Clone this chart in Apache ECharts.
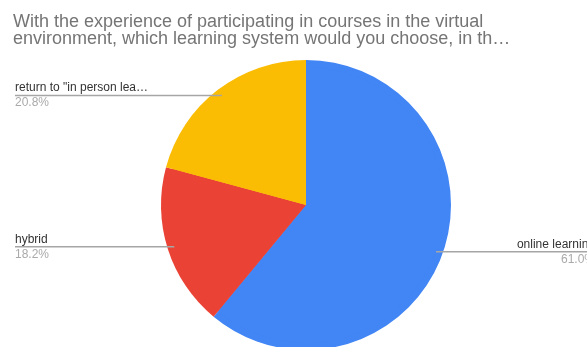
<!DOCTYPE html>
<html>
<head>
<meta charset="utf-8">
<script src="https://cdn.jsdelivr.net/npm/echarts@6/dist/echarts.min.js"></script>
<style>
  html, body { margin: 0; padding: 0; background: #fff; }
  #chart { width: 587px; height: 347px; }
</style>
</head>
<body>
<div id="chart"></div>
<script>
// Survey answers: preferred learning system after taking courses online
const categories = ['online learning', 'hybrid', 'return to "in person lea…'];
const shares = [61.0, 18.2, 20.8];
const colors = ['#4285F4', '#EA4335', '#FBBC04'];

const titleText = 'With the experience of participating in courses in the virtual\nenvironment, which learning system would you choose, in th…';

const CHART_W = 587;
const LEFT_TEXT_X = 15;
const RIGHT_TEXT_X = 595;
const CENTER = [306, 205];
const RADIUS = 145;
const ANCHOR_RADIUS = 138;
const FONT = 'Liberation Sans, Arial, sans-serif';

const pieData = categories.map((name, i) => ({
  name: name,
  value: shares[i],
  itemStyle: { color: colors[i] }
}));

const chart = echarts.init(document.getElementById('chart'), null, { renderer: 'canvas' });

chart.setOption({
  animation: false,
  title: {
    text: titleText,
    left: 8,
    top: 9,
    textStyle: {
      fontFamily: FONT,
      fontSize: 18,
      fontWeight: 'normal',
      color: '#757575',
      lineHeight: 17
    }
  },
  series: [
    {
      // filled slices
      type: 'pie',
      center: CENTER,
      radius: RADIUS,
      startAngle: 90,
      clockwise: true,
      data: pieData,
      label: { show: false },
      labelLine: { show: false },
      emphasis: { disabled: true }
    },
    {
      // slightly smaller transparent copy on its own layer: carries labels and leaders
      type: 'pie',
      zlevel: 1,
      silent: true,
      center: CENTER,
      radius: ANCHOR_RADIUS,
      startAngle: 90,
      clockwise: true,
      data: pieData,
      itemStyle: { color: 'rgba(0,0,0,0)' },
      label: {
        show: true,
        position: 'outside',
        formatter: p => '{n|' + p.name + '}\n{p|' + p.value.toFixed(1) + '%}',
        rich: {
          n: { fontFamily: FONT, fontSize: 12, color: '#333', lineHeight: 15 },
          p: { fontFamily: FONT, fontSize: 12, color: '#aaa', lineHeight: 15 }
        }
      },
      labelLine: {
        show: true,
        length: 10,
        length2: 10,
        smooth: false,
        lineStyle: { color: '#a6a6a6', width: 1.5 }
      },
      labelLayout: function (params) {
        const pts = params.labelLinePoints;
        const ax = pts[0][0];
        const ay = pts[0][1];
        const onRight = ax > CENTER[0];
        const endX = onRight ? CHART_W : LEFT_TEXT_X;
        return {
          x: onRight ? RIGHT_TEXT_X : LEFT_TEXT_X,
          y: ay,
          align: onRight ? 'right' : 'left',
          verticalAlign: 'middle',
          labelLinePoints: [[ax, ay], [endX, ay], [endX, ay]]
        };
      },
      emphasis: { disabled: true }
    }
  ]
});
</script>
</body>
</html>
